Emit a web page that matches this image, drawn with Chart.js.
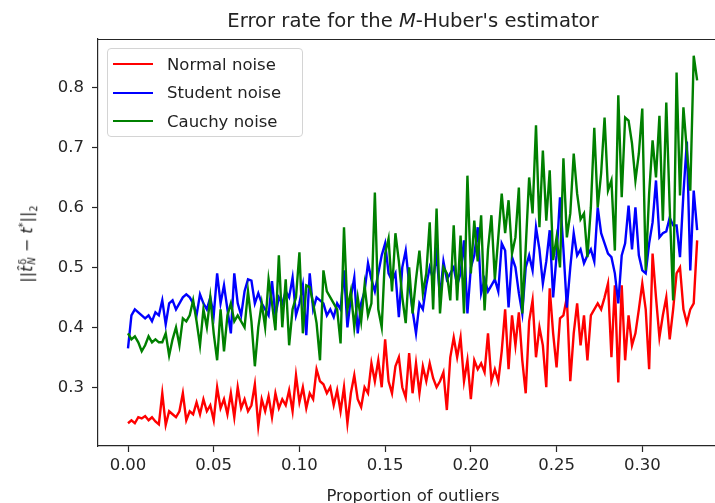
<!DOCTYPE html>
<html>
<head>
<meta charset="utf-8">
<script src="https://cdn.jsdelivr.net/npm/chart.js@4.4.1/dist/chart.umd.min.js"></script>
<style>
  body { margin: 0; background: #fff; }
  #wrap { position: relative; width: 715px; height: 503px; overflow: hidden; font-family: 'DejaVu Sans', sans-serif; color: #222; }
  #chart { position: absolute; left: 0; top: 0; }
  #title { position: absolute; left: 98px; width: 630px; top: 11px; text-align: center; font-size: 19.6px; line-height: 20px; white-space: nowrap; }
  #ylab { position: absolute; left: 28px; top: 244px; transform: translate(-50%, -50%) rotate(-90deg); font-size: 16px; white-space: nowrap; }
  #ylab .ss { display: inline-flex; flex-direction: column; font-size: 0.62em; line-height: 0.9; vertical-align: middle; margin-left: 1px; }
  #ylab sub, #ylab sup { font-size: 0.62em; }
  #legend { position: absolute; left: 107px; top: 48px; width: 194px; height: 87px; border: 1px solid #d4d4d4; border-radius: 4px; background: rgba(255,255,255,0.85); font-size: 16.5px; }
  #legend .row { display: flex; align-items: center; height: 28.5px; }
  #legend .row:first-child { margin-top: 1px; }
  #legend .swatch { width: 40px; height: 2px; margin-left: 5px; margin-right: 14px; }
</style>
</head>
<body>
<div id="wrap">
  <canvas id="chart" width="735" height="515"></canvas>
  <div id="title">Error rate for the <i>M</i>-Huber's estimator</div>
  <div id="ylab">||<i>t̂</i><span class="ss"><span>δ</span><i>N</i></span> − <i>t</i><sup>*</sup>||<sub>2</sub></div>
  <div id="legend"></div>
</div>
<script>
// proportion of outliers (x)
const proportions = [
  0, 0.002, 0.004, 0.006, 0.008, 0.010, 0.012, 0.014, 0.016, 0.018,
  0.020, 0.022, 0.024, 0.026, 0.028, 0.030, 0.032, 0.034, 0.036, 0.038,
  0.040, 0.042, 0.044, 0.046, 0.048, 0.050, 0.052, 0.054, 0.056, 0.058,
  0.060, 0.062, 0.064, 0.066, 0.068, 0.070, 0.072, 0.074, 0.076, 0.078,
  0.080, 0.082, 0.084, 0.086, 0.088, 0.090, 0.092, 0.094, 0.096, 0.098,
  0.100, 0.102, 0.104, 0.106, 0.108, 0.110, 0.112, 0.114, 0.116, 0.118,
  0.120, 0.122, 0.124, 0.126, 0.128, 0.130, 0.132, 0.134, 0.136, 0.138,
  0.140, 0.142, 0.144, 0.146, 0.148, 0.150, 0.152, 0.154, 0.156, 0.158,
  0.160, 0.162, 0.164, 0.166, 0.168, 0.170, 0.172, 0.174, 0.176, 0.178,
  0.180, 0.182, 0.184, 0.186, 0.188, 0.190, 0.192, 0.194, 0.196, 0.198,
  0.200, 0.202, 0.204, 0.206, 0.208, 0.210, 0.212, 0.214, 0.216, 0.218,
  0.220, 0.222, 0.224, 0.226, 0.228, 0.230, 0.232, 0.234, 0.236, 0.238,
  0.240, 0.242, 0.244, 0.246, 0.248, 0.250, 0.252, 0.254, 0.256, 0.258,
  0.260, 0.262, 0.264, 0.266, 0.268, 0.270, 0.272, 0.274, 0.276, 0.278,
  0.280, 0.282, 0.284, 0.286, 0.288, 0.290, 0.292, 0.294, 0.296, 0.298,
  0.300, 0.302, 0.304, 0.306, 0.308, 0.310, 0.312, 0.314, 0.316, 0.318,
  0.320, 0.322, 0.324, 0.326, 0.328, 0.330, 0.332
];

const normalNoise = [
  0.24, 0.245, 0.24, 0.25, 0.248, 0.252, 0.245, 0.25, 0.243, 0.238,
  0.29, 0.237, 0.26, 0.255, 0.25, 0.26, 0.29, 0.245, 0.26, 0.255,
  0.275, 0.255, 0.28, 0.26, 0.27, 0.245, 0.30, 0.265, 0.28, 0.255,
  0.29, 0.25, 0.30, 0.265, 0.28, 0.26, 0.27, 0.305, 0.235, 0.28,
  0.26, 0.285, 0.25, 0.29, 0.265, 0.28, 0.27, 0.295, 0.26, 0.32,
  0.275, 0.30, 0.265, 0.29, 0.28, 0.33, 0.31, 0.305, 0.29, 0.30,
  0.27, 0.295, 0.26, 0.30, 0.24, 0.29, 0.32, 0.28, 0.267, 0.30,
  0.29, 0.34, 0.31, 0.345, 0.30, 0.38, 0.31, 0.29, 0.335, 0.35,
  0.30, 0.283, 0.357, 0.29, 0.34, 0.29, 0.335, 0.31, 0.34, 0.315,
  0.30, 0.31, 0.325, 0.262, 0.35, 0.383, 0.35, 0.383, 0.31, 0.345,
  0.28, 0.345, 0.33, 0.34, 0.325, 0.39, 0.31, 0.33, 0.31, 0.36,
  0.43, 0.33, 0.42, 0.37, 0.425, 0.345, 0.29, 0.41, 0.445, 0.35,
  0.40, 0.37, 0.30, 0.465, 0.39, 0.333, 0.415, 0.42, 0.45, 0.31,
  0.39, 0.44, 0.37, 0.42, 0.345, 0.42, 0.43, 0.44, 0.43, 0.45,
  0.473, 0.35, 0.47, 0.308, 0.47, 0.345, 0.42, 0.37, 0.39, 0.43,
  0.473, 0.43, 0.33, 0.523, 0.45, 0.383, 0.42, 0.45, 0.38, 0.43,
  0.49, 0.50, 0.43, 0.407, 0.43, 0.44, 0.545
];

const studentNoise = [
  0.365, 0.42, 0.43, 0.425, 0.42, 0.415, 0.42, 0.41, 0.425, 0.42,
  0.445, 0.405, 0.44, 0.445, 0.43, 0.44, 0.45, 0.455, 0.45, 0.44,
  0.42, 0.455, 0.44, 0.43, 0.45, 0.42, 0.49, 0.44, 0.47, 0.43,
  0.39, 0.49, 0.44, 0.42, 0.46, 0.48, 0.478, 0.44, 0.457, 0.44,
  0.43, 0.42, 0.477, 0.42, 0.45, 0.44, 0.46, 0.45, 0.483, 0.42,
  0.44, 0.47, 0.387, 0.49, 0.43, 0.45, 0.445, 0.44, 0.42, 0.43,
  0.417, 0.44, 0.43, 0.495, 0.40, 0.45, 0.483, 0.39, 0.44, 0.46,
  0.507, 0.48, 0.46, 0.49, 0.52, 0.54, 0.49, 0.478, 0.49, 0.417,
  0.50, 0.528, 0.473, 0.428, 0.39, 0.44, 0.43, 0.47, 0.50, 0.48,
  0.523, 0.45, 0.51, 0.48, 0.49, 0.50, 0.47, 0.49, 0.545, 0.423,
  0.50, 0.52, 0.567, 0.457, 0.48, 0.46, 0.47, 0.48, 0.46, 0.54,
  0.528, 0.433, 0.517, 0.50, 0.457, 0.423, 0.50, 0.52, 0.495, 0.567,
  0.53, 0.473, 0.51, 0.562, 0.45, 0.52, 0.617, 0.53, 0.433, 0.50,
  0.557, 0.52, 0.53, 0.507, 0.52, 0.53, 0.51, 0.60, 0.557, 0.54,
  0.523, 0.517, 0.49, 0.44, 0.52, 0.54, 0.603, 0.53, 0.60, 0.52,
  0.495, 0.49, 0.54, 0.575, 0.645, 0.55, 0.557, 0.56, 0.583, 0.57,
  0.57, 0.517, 0.623, 0.71, 0.495, 0.628, 0.562
];

const cauchyNoise = [
  0.39, 0.38, 0.385, 0.375, 0.36, 0.37, 0.385, 0.375, 0.38, 0.375,
  0.375, 0.39, 0.353, 0.38, 0.40, 0.37, 0.415, 0.41, 0.42, 0.445,
  0.41, 0.37, 0.43, 0.40, 0.45, 0.39, 0.345, 0.43, 0.36, 0.42,
  0.44, 0.41, 0.42, 0.41, 0.40, 0.46, 0.41, 0.335, 0.40, 0.44,
  0.40, 0.48, 0.44, 0.395, 0.52, 0.40, 0.48, 0.37, 0.43, 0.45,
  0.525, 0.39, 0.47, 0.467, 0.44, 0.407, 0.345, 0.495, 0.46, 0.45,
  0.44, 0.43, 0.373, 0.567, 0.43, 0.46, 0.40, 0.45, 0.41, 0.47,
  0.42, 0.44, 0.625, 0.43, 0.40, 0.523, 0.548, 0.46, 0.557, 0.51,
  0.45, 0.407, 0.50, 0.423, 0.48, 0.528, 0.457, 0.49, 0.575, 0.43,
  0.598, 0.423, 0.50, 0.49, 0.445, 0.57, 0.445, 0.553, 0.423, 0.653,
  0.49, 0.578, 0.51, 0.587, 0.428, 0.53, 0.587, 0.48, 0.55, 0.623,
  0.557, 0.612, 0.523, 0.55, 0.633, 0.423, 0.533, 0.65, 0.59, 0.737,
  0.567, 0.695, 0.578, 0.662, 0.512, 0.55, 0.50, 0.682, 0.55, 0.59,
  0.69, 0.623, 0.58, 0.59, 0.517, 0.60, 0.733, 0.60, 0.657, 0.75,
  0.628, 0.645, 0.528, 0.787, 0.617, 0.75, 0.745, 0.707, 0.645, 0.69,
  0.765, 0.495, 0.623, 0.712, 0.65, 0.753, 0.578, 0.775, 0.60, 0.445,
  0.825, 0.62, 0.767, 0.695, 0.628, 0.853, 0.812
];

const xTicks = [0, 0.05, 0.10, 0.15, 0.20, 0.25, 0.30];
const yTicks = [0.3, 0.4, 0.5, 0.6, 0.7, 0.8];

const seriesNames = ['Normal noise', 'Student noise', 'Cauchy noise'];
const seriesColors = ['#ff0000', '#0000ff', '#008000'];
const seriesValues = [normalNoise, studentNoise, cauchyNoise];

const tickFont = { family: "'DejaVu Sans', sans-serif", size: 16.5 };
const ink = '#262626';

// top and right spines, like matplotlib's box
const frame = {
  id: 'frame',
  afterDraw(chart) {
    const { ctx, chartArea: a } = chart;
    ctx.save();
    ctx.strokeStyle = ink;
    ctx.lineWidth = 1.2;
    ctx.beginPath();
    ctx.moveTo(a.left, Math.round(a.top) + 0.5);
    ctx.lineTo(a.right, Math.round(a.top) + 0.5);
    ctx.lineTo(a.right, a.bottom);
    ctx.stroke();
    ctx.restore();
  }
};

const ctx = document.getElementById('chart').getContext('2d');
const chart = new Chart(ctx, {
  type: 'line',
  data: {
    datasets: seriesValues.map((vals, k) => ({
      label: seriesNames[k],
      data: vals.map((v, i) => ({ x: proportions[i], y: v })),
      borderColor: seriesColors[k],
      backgroundColor: seriesColors[k],
      borderWidth: 2.4,
      pointRadius: 0,
      tension: 0,
      order: 3 - k
    }))
  },
  options: {
    responsive: false,
    animation: false,
    layout: { padding: { top: 39, right: 7, left: 0, bottom: 0 } },
    plugins: {
      legend: { display: false },
      tooltip: { enabled: false }
    },
    scales: {
      x: {
        type: 'linear',
        min: -0.0175,
        max: 0.35,
        afterBuildTicks: axis => { axis.ticks = xTicks.map(v => ({ value: v })); },
        afterFit: scale => { scale.height = 69; },
        ticks: {
          font: tickFont,
          color: ink,
          padding: 4,
          maxRotation: 0,
          autoSkip: false,
          callback: v => v.toFixed(2)
        },
        grid: { drawOnChartArea: false, drawTicks: true, tickLength: 6, tickColor: ink, tickWidth: 1.2 },
        border: { display: true, color: ink, width: 1.2 },
        title: {
          display: true,
          text: 'Proportion of outliers',
          font: tickFont,
          color: ink,
          padding: { top: 0, bottom: 8 }
        }
      },
      y: {
        type: 'linear',
        min: 0.202,
        max: 0.881,
        afterBuildTicks: axis => { axis.ticks = yTicks.map(v => ({ value: v })); },
        afterFit: scale => { scale.width = 98; },
        ticks: {
          font: tickFont,
          color: ink,
          padding: 8,
          callback: v => v.toFixed(1)
        },
        grid: { drawOnChartArea: false, drawTicks: true, tickLength: 6, tickColor: ink, tickWidth: 1.2 },
        border: { display: true, color: ink, width: 1.2 }
      }
    }
  },
  plugins: [frame]
});

// legend box inside the axes, upper left
const legend = document.getElementById('legend');
chart.data.datasets.forEach(ds => {
  const row = document.createElement('div');
  row.className = 'row';
  const sw = document.createElement('span');
  sw.className = 'swatch';
  sw.style.background = ds.borderColor;
  const txt = document.createElement('span');
  txt.textContent = ds.label;
  row.appendChild(sw);
  row.appendChild(txt);
  legend.appendChild(row);
});
</script>
</body>
</html>
